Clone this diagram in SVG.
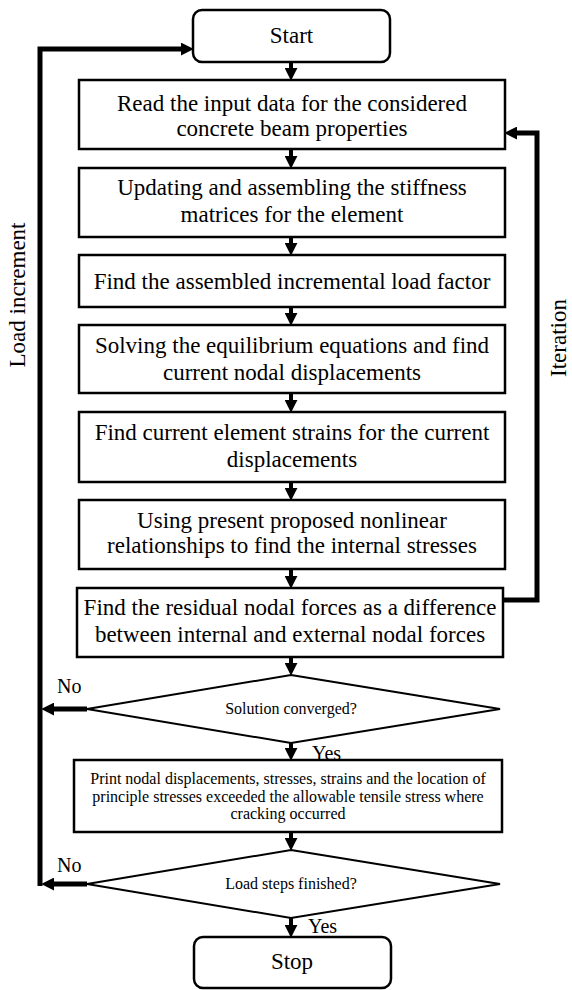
<svg xmlns="http://www.w3.org/2000/svg" width="572" height="990" viewBox="0 0 572 990">
<style>
text{font-family:"Liberation Serif","Times New Roman",serif;fill:#000}
.t{font-size:23px;text-anchor:middle}
.s{font-size:16px;text-anchor:middle}
.lbl{font-size:20px}
.side{font-size:23px;text-anchor:middle}
.box{fill:#fff;stroke:#000;stroke-width:2.5}
.dia{fill:#fff;stroke:#000;stroke-width:2}
.c{fill:none;stroke:#000;stroke-width:4}
.loop{fill:none;stroke:#000;stroke-width:5}
</style>
<defs>
<marker id="ah" markerUnits="userSpaceOnUse" markerWidth="13" markerHeight="13" viewBox="0 0 12 12" refX="2" refY="6" orient="auto">
<path d="M0,0 L12,6 L0,12 z" fill="#000"/>
</marker>
</defs>
<rect width="572" height="990" fill="#fff"/>
<g id="connectors">
<line class="c" x1="291" y1="62" x2="291" y2="70" marker-end="url(#ah)"/>
<line class="c" x1="291" y1="149" x2="291" y2="158" marker-end="url(#ah)"/>
<line class="c" x1="291" y1="237" x2="291" y2="245" marker-end="url(#ah)"/>
<line class="c" x1="291" y1="307" x2="291" y2="315" marker-end="url(#ah)"/>
<line class="c" x1="291" y1="393" x2="291" y2="402" marker-end="url(#ah)"/>
<line class="c" x1="291" y1="482" x2="291" y2="490" marker-end="url(#ah)"/>
<line class="c" x1="291" y1="569" x2="291" y2="578" marker-end="url(#ah)"/>
<line class="c" x1="291" y1="657" x2="291" y2="665" marker-end="url(#ah)"/>
<line class="c" x1="291" y1="743" x2="291" y2="750" marker-end="url(#ah)"/>
<line class="c" x1="291" y1="832" x2="291" y2="840" marker-end="url(#ah)"/>
<line class="c" x1="291" y1="918" x2="291" y2="927" marker-end="url(#ah)"/>
<line class="loop" x1="87" y1="709" x2="52" y2="709" marker-end="url(#ah)"/>
<line class="loop" x1="87" y1="884" x2="52" y2="884" marker-end="url(#ah)"/>
<polyline class="loop" points="40,886 40,49 183,49" marker-end="url(#ah)"/>
<polyline class="loop" points="503,600 537,600 537,133 515,133" marker-end="url(#ah)"/>
<text class="lbl" x="57" y="693">No</text>
<text class="lbl" x="57" y="872">No</text>
<text class="lbl" x="312" y="760">Yes</text>
<text class="lbl" x="308" y="933">Yes</text>
<text class="side" x="25" y="295" transform="rotate(-90 25 295)">Load increment</text>
<text class="side" x="566" y="338" transform="rotate(-90 566 338)">Iteration</text>
</g>
<g id="start">
<rect class="box" x="193" y="10" width="197" height="52" rx="9"/>
<text class="t" x="291.5" y="43">Start</text>
</g>
<g id="read-input">
<rect class="box" x="79" y="80" width="426" height="69"/>
<text class="t" x="292" y="111">Read the input data for the considered</text>
<text class="t" x="292" y="136">concrete beam properties</text>
</g>
<g id="update-stiffness">
<rect class="box" x="79" y="168" width="426" height="69"/>
<text class="t" x="292" y="195">Updating and assembling the stiffness</text>
<text class="t" x="292" y="222">matrices for the element</text>
</g>
<g id="load-factor">
<rect class="box" x="79" y="255" width="426" height="52"/>
<text class="t" x="292" y="289">Find the assembled incremental load factor</text>
</g>
<g id="solve-equilibrium">
<rect class="box" x="79" y="325" width="426" height="68"/>
<text class="t" x="292" y="353">Solving the equilibrium equations and find</text>
<text class="t" x="292" y="380">current nodal displacements</text>
</g>
<g id="element-strains">
<rect class="box" x="79" y="412" width="426" height="70"/>
<text class="t" x="292" y="440">Find current element strains for the current</text>
<text class="t" x="292" y="467">displacements</text>
</g>
<g id="internal-stresses">
<rect class="box" x="79" y="500" width="426" height="69"/>
<text class="t" x="292" y="528">Using present proposed nonlinear</text>
<text class="t" x="292" y="553">relationships to find the internal stresses</text>
</g>
<g id="residual-forces">
<rect class="box" x="77" y="588" width="426" height="69"/>
<text class="t" x="290" y="615">Find the residual nodal forces as a difference</text>
<text class="t" x="290" y="642">between internal and external nodal forces</text>
</g>
<g id="converged">
<polygon class="dia" points="291,675 500,709 291,743 87,709"/>
<text class="s" x="291" y="714">Solution converged?</text>
</g>
<g id="print-results">
<rect class="box" x="74" y="760" width="428" height="72"/>
<text class="s" x="288" y="784">Print nodal displacements, stresses, strains and the location of</text>
<text class="s" x="288" y="801.5">principle stresses exceeded the allowable tensile stress where</text>
<text class="s" x="288" y="819">cracking occurred</text>
</g>
<g id="load-steps">
<polygon class="dia" points="291,850 500,884 291,918 87,884"/>
<text class="s" x="291" y="889">Load steps finished?</text>
</g>
<g id="stop">
<rect class="box" x="194" y="937" width="197" height="51" rx="9"/>
<text class="t" x="292" y="969">Stop</text>
</g>
</svg>
